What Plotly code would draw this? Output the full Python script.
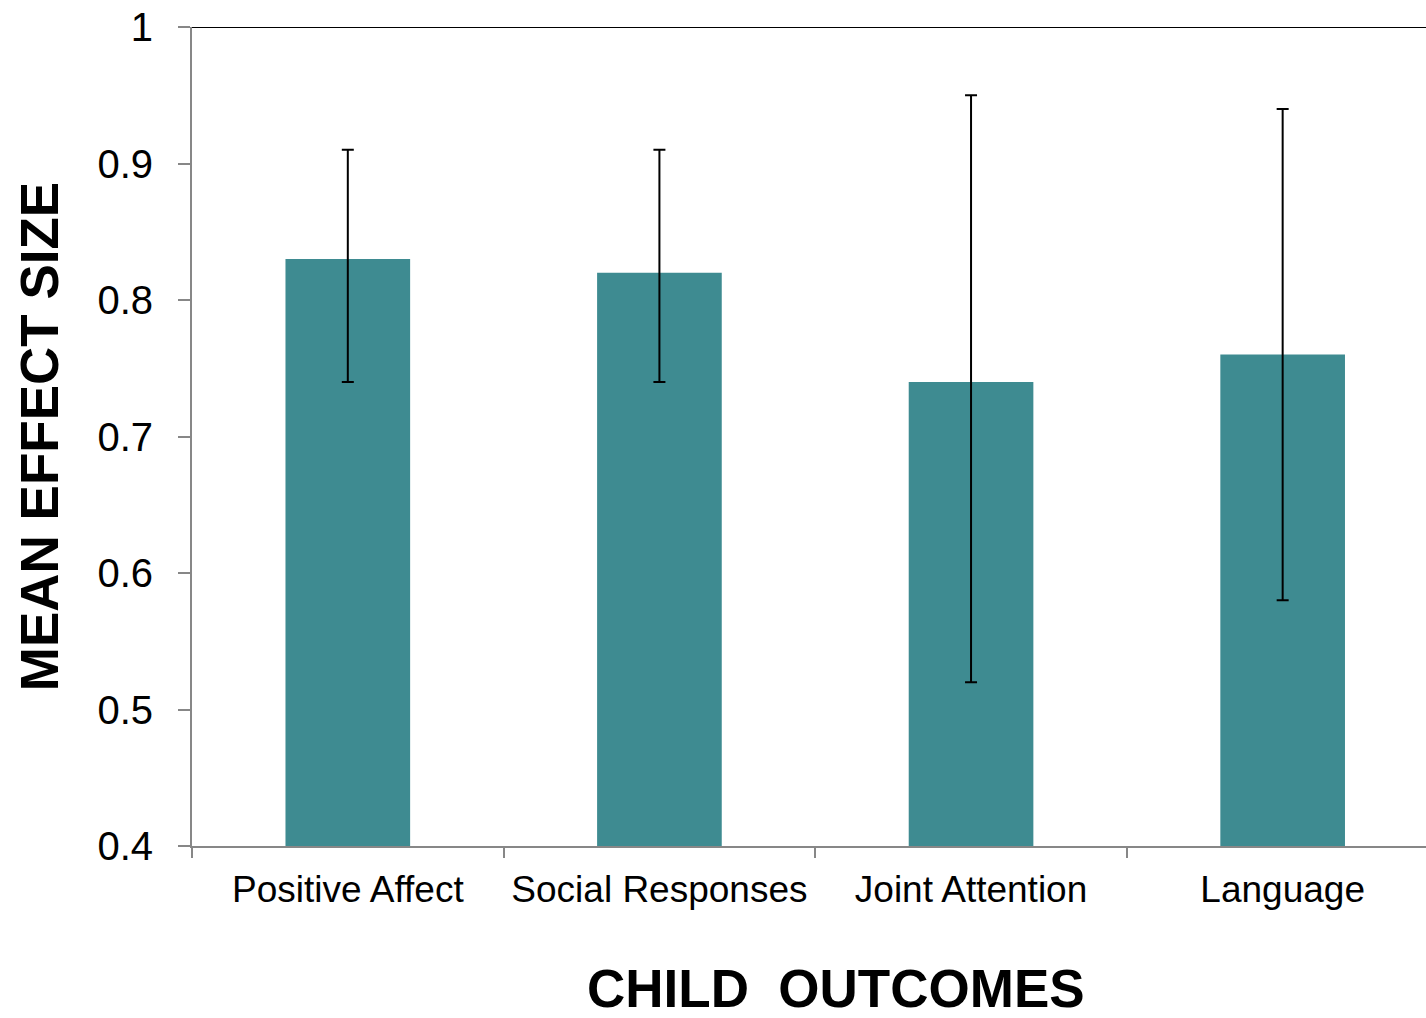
import plotly.graph_objects as go

categories = ["Positive Affect", "Social Responses", "Joint Attention", "Language"]
mean_effect = [0.83, 0.82, 0.74, 0.76]
err_upper = [0.91, 0.91, 0.95, 0.94]
err_lower = [0.74, 0.74, 0.52, 0.58]
y_ticks = [0.4, 0.5, 0.6, 0.7, 0.8, 0.9, 1]
y_tick_text = ["0.4", "0.5", "0.6", "0.7", "0.8", "0.9", "1"]

plus = [u - m for u, m in zip(err_upper, mean_effect)]
minus = [m - l for m, l in zip(mean_effect, err_lower)]

fig = go.Figure()
fig.add_trace(go.Bar(
    x=categories, y=mean_effect, width=0.4,
    marker=dict(color="#3E8B91", line=dict(width=0)),
    error_y=dict(type="data", symmetric=False, array=plus, arrayminus=minus,
                 color="#000000", thickness=2, width=6),
))

fig.update_layout(
    width=1426, height=1018,
    margin=dict(l=192, r=0, t=27, b=172, autoexpand=False),
    paper_bgcolor="white", plot_bgcolor="white",
    showlegend=False,
    font=dict(family="Liberation Sans, Arial, sans-serif", color="#000000"),
    xaxis=dict(
        type="category", range=[-0.5, 3.46], automargin=False,
        showline=True, linecolor="#878787", linewidth=2,
        ticks="outside", tickson="boundaries", ticklen=10, tickwidth=2, tickcolor="#878787",
        tickfont=dict(size=37, color="#000000"),
        ticklabelstandoff=10,
        showgrid=False, zeroline=False,
    ),
    yaxis=dict(
        range=[0.4, 1.0], tickvals=y_ticks, ticktext=y_tick_text, automargin=False,
        showline=True, linecolor="#878787", linewidth=2,
        ticks="outside", ticklen=12, tickwidth=2, tickcolor="#878787",
        tickfont=dict(size=40, color="#000000"),
        ticklabelstandoff=17, ticklabeloverflow="allow",
        showgrid=False, zeroline=False,
        title=dict(text="<b>MEAN EFFECT SIZE</b>", font=dict(size=53, color="#000000"), standoff=22),
    ),
    shapes=[dict(type="line", xref="paper", yref="y", x0=0, x1=1, y0=1.0, y1=1.0,
                 line=dict(color="#000000", width=2))],
    annotations=[dict(text="<b>CHILD\u00a0\u00a0OUTCOMES</b>", xref="paper", yref="paper",
                      x=(836 - 192) / 1234, y=0, yshift=-111, xanchor="center", yanchor="top",
                      showarrow=False, font=dict(size=53, color="#000000"))],
)

fig.write_html("out.html", config={"displayModeBar": False},
               post_script="document.body.style.margin='0';document.body.style.overflow='hidden';")
